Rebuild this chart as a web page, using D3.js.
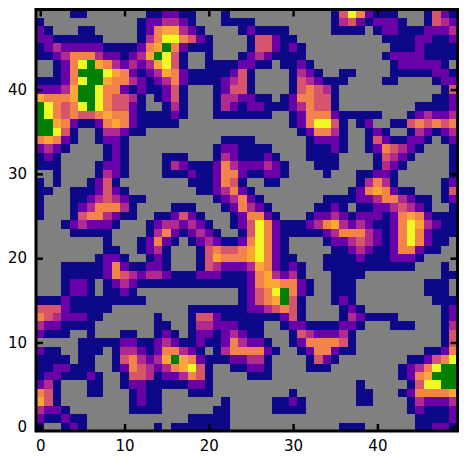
<!DOCTYPE html>
<html>
<head>
<meta charset="utf-8">
<script src="https://d3js.org/d3.v7.min.js"></script>
<style>
  body { margin: 0; background: #fff; }
  svg { display: block; }
</style>
</head>
<body>
<script>
// binned values, one string per row, top row (y = 49) first
const rowsLeft = [
  "0000110000000112211000100",
  "1000000000001223321000111",
  "2100011000001256632100001",
  "2211111100001357754210000",
  "1232222211112568521110000",
  "1123555322123687410010001",
  "0012578653232367410011112",
  "0012588876521236521111124",
  "1112578865532123521111234",
  "2223688755212112410001244",
  "6555688754431012410001332",
  "8754578754421001310001321",
  "8754544565521111210001111",
  "8865211256521111100000000",
  "8874100133211000000000000",
  "5652100122100000000000111",
  "2321000012100000000001221",
  "1210000012100001110001321",
  "1110000122100001321112532",
  "0010000132100001112112552",
  "1010001241000000001112541",
  "1100111242100000000112352",
  "1000112343211000000001235",
  "1000123555310000111000125",
  "1000145532110011242100012",
  "0001232221000123323210012",
  "0000111110000135212321001",
  "0000000010001252101232112",
  "0000000011001231000145445",
  "0000000122100121000146555",
  "0001111125211221000143222",
  "0001111125432332111222111",
  "0001221012321111111111111",
  "0001221011210000000000001",
  "1112111111111000000000001",
  "4442111110000000001111111",
  "5432221100000010001442111",
  "3221111000000011001332221",
  "2111001000110012101221232",
  "0000011111221123211211253",
  "2110011101332125532101355",
  "1111011001453236865211122",
  "1122111001254323567410011",
  "1221112100144312235410000",
  "2310001100122111112210000",
  "5410001100012110001110000",
  "6410000000012110000000100",
  "3221000000011110000001100",
  "2112110000000000001111100",
  "1001210000000010111111100"
];

const rowsRight = [
  "0000000000147521110001421",
  "1000000000134212221001432",
  "2111100000111101221112223",
  "1442110000000000111122112",
  "1442121000000000011121111",
  "2321111000000000122221111",
  "2110112100000000012222210",
  "1000013210011000011111221",
  "1000014321110000110000122",
  "1000014543100000000000014",
  "2110125544100000000000112",
  "2211123544100000000011112",
  "1110012555211111000123223",
  "0000012577410120011454545",
  "0000001255310012100132123",
  "1000000122210014211221012",
  "1110000111210012543210001",
  "1121000111100001432100001",
  "2232100011100001321000001",
  "1122100001000112210000001",
  "0011000000000135310000012",
  "1000000000001256521100014",
  "2100000001111223553211012",
  "3210000011210112234321001",
  "5521000122321222125652111",
  "4752111235632321125763211",
  "4752111112355532125752111",
  "5752100001223432125752110",
  "6752100000112321125521100",
  "6752110001111211122210000",
  "3652121001111111111100010",
  "2563231000111100000000011",
  "2566552100111000000001110",
  "2457852100111000000001110",
  "2456841000121000000000111",
  "2234541000012100000000012",
  "1111241000013211110000012",
  "1100122111122100011100013",
  "1100014322231000000000014",
  "2210012555541000000000014",
  "5521001255211000000001125",
  "3310000142100000000112457",
  "2210000111000000001235788",
  "1110000000000000001256888",
  "0000000000000100000147788",
  "0000010000000110001255556",
  "0001121000000110000132223",
  "0001111000000000000121112",
  "0000000000000000000011112",
  "0000000000011100000011221"
];

const xTicks = [0, 10, 20, 30, 40];
const yTicks = [0, 10, 20, 30, 40];
const levelNames = [0, 1, 2, 3, 4, 5, 6, 7, 8];
const plasmaStops = [0, 0.2, 0.4, 0.55, 0.7, 0.8, 1];

const width = 467;
const height = 463;

const cells = [];
rowsLeft.forEach((row, i) => {
  const full = row + rowsRight[i];
  for (let c = 0; c < full.length; c++) {
    cells.push({ x: c, y: 49 - i, level: +full[c] });
  }
});

const x = d3.scaleLinear().domain([-0.5, 49.5]).range([36, 457.5]);
const y = d3.scaleLinear().domain([-0.5, 49.5]).range([431, 9.5]);

const color = d3
  .scaleOrdinal()
  .domain(levelNames)
  .range(["#808080", ...plasmaStops.map((t) => d3.interpolatePlasma(t)), "#008000"]);

const svg = d3
  .select("body")
  .append("svg")
  .attr("width", width)
  .attr("height", height);

svg
  .selectAll("rect.cell")
  .data(cells)
  .join("rect")
  .attr("class", "cell")
  .attr("x", (d) => x(d.x - 0.5))
  .attr("y", (d) => y(d.y + 0.5))
  .attr("width", (d) => x(d.x + 0.5) - x(d.x - 0.5))
  .attr("height", (d) => y(d.y - 0.5) - y(d.y + 0.5))
  .attr("fill", (d) => color(d.level))
  .attr("shape-rendering", "crispEdges");

// ticks point inward on all four sides
const makeAxis = (axis, translate, ticks, labelled) => {
  const g = svg
    .append("g")
    .attr("transform", translate)
    .call(
      axis
        .tickValues(ticks)
        .tickSize(-7)
        .tickPadding(9)
        .tickFormat(labelled ? d3.format("d") : "")
    );
  g.select(".domain").remove();
  g.selectAll(".tick line").attr("stroke", "#000").attr("stroke-width", 2.5);
  g.selectAll("text")
    .attr("fill", "#000")
    .style("font-family", "DejaVu Sans")
    .style("font-size", "15px");
  return g;
};

makeAxis(d3.axisBottom(x), `translate(0,${y.range()[0]})`, xTicks, true);
makeAxis(d3.axisTop(x), `translate(0,${y.range()[1]})`, xTicks, false);
makeAxis(d3.axisLeft(y), `translate(${x.range()[0]},0)`, yTicks, true);
makeAxis(d3.axisRight(y), `translate(${x.range()[1]},0)`, yTicks, false);

svg
  .append("rect")
  .attr("x", x.range()[0])
  .attr("y", y.range()[1])
  .attr("width", x.range()[1] - x.range()[0])
  .attr("height", y.range()[0] - y.range()[1])
  .attr("fill", "none")
  .attr("stroke", "#000")
  .attr("stroke-width", 3);
</script>
</body>
</html>
